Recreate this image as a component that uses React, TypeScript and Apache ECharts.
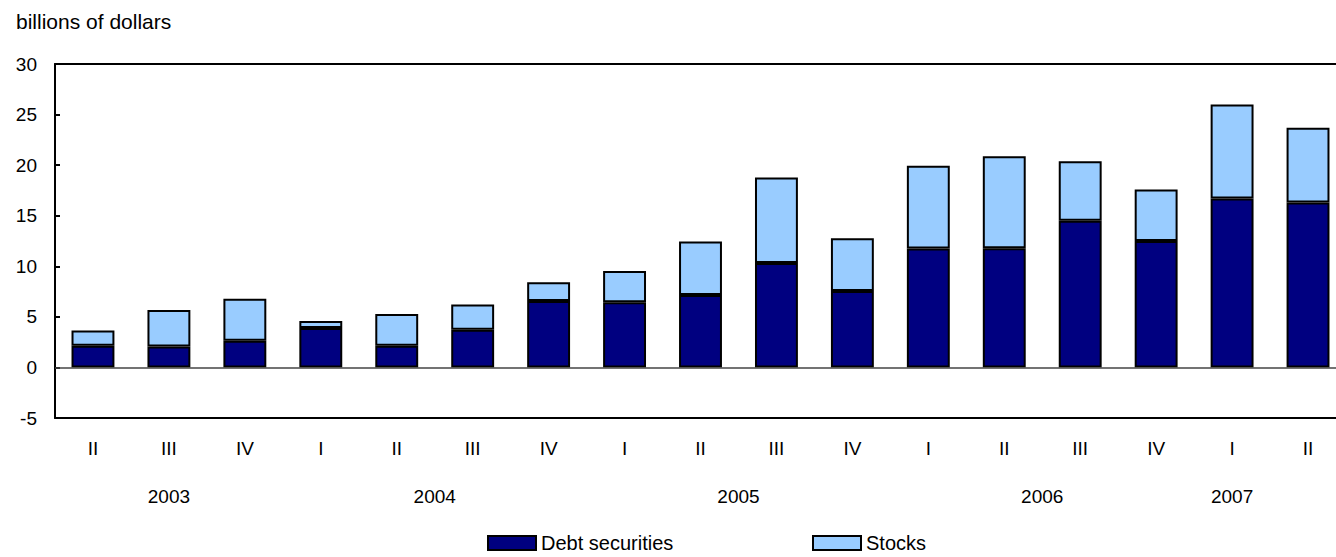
import React, { useEffect, useRef } from "react";
import * as echarts from "echarts";

const quarters = ["II", "III", "IV", "I", "II", "III", "IV", "I", "II", "III", "IV", "I", "II", "III", "IV", "I", "II"];
const debtSecurities = [2.15, 2.07, 2.64, 3.89, 2.15, 3.73, 6.57, 6.44, 7.16, 10.33, 7.56, 11.75, 11.78, 14.49, 12.5, 16.7, 16.3];
const stocks = [1.5, 3.6, 4.15, 0.7, 3.13, 2.5, 1.85, 3.1, 5.3, 8.45, 5.2, 8.2, 9.1, 5.9, 5.1, 9.3, 7.4];
const years = ["2003", "2004", "2005", "2006", "2007"];
const yearCategoryPos = [1, 4.5, 8.5, 12.5, 15];
const yMin = -5;
const yMax = 30;
const yStep = 5;

const FONT = "'Liberation Sans', Arial, Helvetica, sans-serif";
const DARK = "#000080";
const LIGHT = "#99CCFF";

export default function App() {
  const ref = useRef<HTMLDivElement>(null);
  useEffect(() => {
    if (!ref.current) return;
    const chart = echarts.init(ref.current, undefined, { renderer: "svg" });
    const fs = 19;
    const big = 21;
    const legendText = { fontSize: 20, color: "#000", fontFamily: FONT, lineHeight: 20 };
    chart.setOption({
      animation: false,
      backgroundColor: "#fff",
      textStyle: { fontFamily: FONT },
      title: {
        text: "billions of dollars",
        left: 16,
        top: 11,
        padding: 0,
        textStyle: { fontSize: big, fontWeight: "normal", color: "#000", fontFamily: FONT },
      },
      grid: { left: 55, top: 64, right: 0, bottom: 139, containLabel: false },
      legend: [
        {
          data: ["Debt securities"],
          left: 487,
          top: 533,
          padding: 0,
          itemWidth: 48,
          itemHeight: 14,
          itemGap: 6,
          icon: "rect",
          itemStyle: { borderColor: "#000", borderWidth: 2 },
          textStyle: legendText,
        },
        {
          data: ["Stocks"],
          left: 812,
          top: 533,
          padding: 0,
          itemWidth: 48,
          itemHeight: 14,
          itemGap: 6,
          icon: "rect",
          itemStyle: { borderColor: "#000", borderWidth: 2 },
          textStyle: legendText,
        },
      ],
      xAxis: [
        {
          type: "category",
          data: quarters,
          position: "bottom",
          axisLine: { onZero: false, lineStyle: { color: "#000", width: 2 } },
          axisTick: { show: false },
          axisLabel: { color: "#000", fontSize: fs, margin: 21, fontFamily: FONT },
          splitLine: { show: false },
        },
        {
          type: "category",
          data: quarters,
          position: "top",
          axisLine: { onZero: false, lineStyle: { color: "#000", width: 2 } },
          axisTick: { show: false },
          axisLabel: { show: false },
        },
      ],
      yAxis: {
        type: "value",
        min: yMin,
        max: yMax,
        interval: yStep,
        axisLine: { show: true, lineStyle: { color: "#000", width: 2 } },
        axisTick: { show: true, inside: true, length: 5, lineStyle: { color: "#000", width: 2 } },
        axisLabel: { color: "#000", fontSize: fs, margin: 18, fontFamily: FONT },
        splitLine: { show: false },
      },
      series: [
        {
          name: "Debt securities",
          type: "bar",
          stack: "total",
          data: debtSecurities,
          barWidth: "56.5%",
          itemStyle: { color: DARK, borderColor: "#000", borderWidth: 2 },
          markLine: {
            silent: true,
            symbol: "none",
            label: { show: false },
            lineStyle: { color: "#444", width: 1.5, type: "solid" },
            data: [{ yAxis: 0 }],
          },
        },
        {
          name: "Stocks",
          type: "bar",
          stack: "total",
          data: stocks,
          barWidth: "56.5%",
          itemStyle: { color: LIGHT, borderColor: "#000", borderWidth: 2 },
        },
      ],
    });

    const px = (pos: number) => {
      const lo = Math.floor(pos);
      const hi = Math.ceil(pos);
      const a = chart.convertToPixel({ xAxisIndex: 0 }, lo) as number;
      const b = chart.convertToPixel({ xAxisIndex: 0 }, hi) as number;
      return a + (b - a) * (pos - lo);
    };
    const yBottom = chart.convertToPixel({ yAxisIndex: 0 }, yMin) as number;
    chart.setOption({
      graphic: years.map((y, i) => ({
        type: "text",
        x: px(yearCategoryPos[i]),
        y: yBottom + 78,
        style: {
          text: y,
          fill: "#000",
          fontSize: fs,
          fontFamily: FONT,
          align: "center",
          verticalAlign: "middle",
          textAlign: "center",
          textVerticalAlign: "middle",
        },
      })),
    });

    return () => chart.dispose();
  }, []);

  return (
    <div style={{ position: "absolute", left: 0, top: 0, width: 1336, height: 557, overflow: "hidden", background: "#fff" }}>
      <div ref={ref} style={{ width: 1346, height: 557 }} />
    </div>
  );
}
